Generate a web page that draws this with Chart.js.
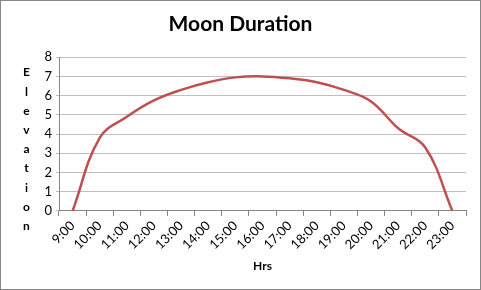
<!DOCTYPE html>
<html>
<head>
<meta charset="utf-8">
<script src="https://cdn.jsdelivr.net/npm/chart.js@4"></script>
<style>
  html, body { margin: 0; padding: 0; background: #fff; }
  .box { width: 481px; height: 290px; box-sizing: border-box; border: 1px solid #868686; }
  .box canvas { display: block; }
</style>
</head>
<body>
<div class="box"><canvas id="chart" width="479" height="288"></canvas></div>
<script>
// Moon elevation over the day
const hours = ['9:00', '10:00', '11:00', '12:00', '13:00', '14:00', '15:00', '16:00',
  '17:00', '18:00', '19:00', '20:00', '21:00', '22:00', '23:00'];
const elevation = [0, 3.8, 4.9, 5.75, 6.3, 6.7, 6.95, 7.0, 6.9, 6.7, 6.3, 5.7, 4.3, 3.3, 0];
const yTicks = [0, 1, 2, 3, 4, 5, 6, 7, 8];

const fontFamily = 'Lato, "Open Sans", sans-serif';

// draws the y axis title as a column of letters, like the original
const stackedYTitle = {
  id: 'stackedYTitle',
  afterDraw(chart) {
    const ctx = chart.ctx;
    const letters = 'Elevation'.split('');
    ctx.save();
    ctx.font = 'bold 12px ' + fontFamily;
    ctx.fillStyle = '#000';
    ctx.textAlign = 'center';
    ctx.textBaseline = 'middle';
    letters.forEach((ch, i) => {
      ctx.fillText(ch, 25.5, 71.5 + i * 19.2);
    });
    ctx.restore();
  }
};

const ctx = document.getElementById('chart').getContext('2d');
new Chart(ctx, {
  type: 'line',
  data: {
    labels: hours,
    datasets: [{
      label: 'Elevation',
      data: elevation,
      borderColor: '#c0504d',
      borderWidth: 2.5,
      pointRadius: 0,
      tension: 0.4,
      fill: false
    }]
  },
  options: {
    responsive: false,
    animation: false,
    layout: { padding: { left: 0, right: 0, top: 0, bottom: 12 } },
    plugins: {
      legend: { display: false },
      tooltip: { enabled: false },
      title: {
        display: true,
        text: 'Moon Duration',
        color: '#000',
        font: { family: fontFamily, size: 21, weight: 'bold' },
        padding: { top: 11, bottom: 20 }
      }
    },
    scales: {
      x: {
        offset: true,
        grid: { display: true, drawOnChartArea: false, drawTicks: true, tickLength: 5, offset: true, color: '#868686' },
        border: { color: '#868686' },
        ticks: { color: '#000', font: { family: fontFamily, size: 13 }, maxRotation: 45, minRotation: 45, padding: 2 },
        title: { display: true, text: 'Hrs', color: '#000', font: { family: fontFamily, size: 12, weight: 'bold' }, padding: { top: 4 } }
      },
      y: {
        min: 0,
        max: 8,
        afterBuildTicks(axis) { axis.ticks = yTicks.map(v => ({ value: v })); },
        afterFit(axis) { axis.width = 58; },
        grid: { color: '#bfbfbf', tickLength: 3, drawTicks: true },
        border: { color: '#868686' },
        ticks: { color: '#000', font: { family: fontFamily, size: 13 }, padding: 4 }
      },
      // empty right axis only to hold the right margin
      yRight: {
        position: 'right',
        afterFit(axis) { axis.width = 14; },
        grid: { display: false },
        border: { display: false },
        ticks: { display: false }
      }
    }
  },
  plugins: [stackedYTitle]
});
</script>
</body>
</html>
